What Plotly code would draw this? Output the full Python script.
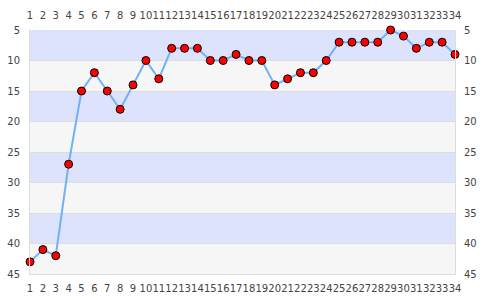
import plotly.graph_objects as go

games = list(range(1, 35))
positions = [43, 41, 42, 27, 15, 12, 15, 18, 14, 10, 13, 8, 8, 8, 10, 10, 9, 10, 10,
             14, 13, 12, 12, 10, 7, 7, 7, 7, 5, 6, 8, 7, 7, 9]
band_edges = [5, 10, 15, 20, 25, 30, 35, 40, 45]
band_colors = ["#dde3fd", "#f6f6f6"]
y_ticks = [5, 10, 15, 20, 25, 30, 35, 40, 45]

fig = go.Figure()
fig.add_trace(go.Scatter(
    x=games, y=positions, mode="lines+markers",
    line=dict(color="#70b2f3", width=2),
    marker=dict(color="#ff0000", size=8, line=dict(color="#000000", width=1)),
    cliponaxis=False, showlegend=False, hoverinfo="x+y"))
fig.add_trace(go.Scatter(x=games, y=positions, xaxis="x2", yaxis="y2",
                         mode="markers", marker=dict(opacity=0), showlegend=False,
                         hoverinfo="skip"))

shapes = []
for i in range(len(band_edges) - 1):
    shapes.append(dict(type="rect", xref="paper", yref="y", x0=0, x1=1,
                       y0=band_edges[i], y1=band_edges[i + 1],
                       fillcolor=band_colors[i % 2], line=dict(width=0), layer="below"))

font = dict(family="DejaVu Sans", size=10, color="#444444")
common_x = dict(range=[1, 34], tickmode="array", tickvals=games,
                ticktext=[str(g) for g in games], tickangle=0, showgrid=False,
                zeroline=False, tickfont=font, ticks="", fixedrange=True,
                automargin=False)
common_y = dict(range=[45, 5], tickmode="array", tickvals=y_ticks,
                zeroline=False, tickfont=font, ticks="", fixedrange=True,
                automargin=False)

fig.update_layout(
    width=485, height=300,
    margin=dict(l=30, r=30, t=30, b=26),
    paper_bgcolor="white", plot_bgcolor="white",
    shapes=shapes,
    xaxis=dict(**common_x, side="bottom", showline=True, linecolor="#dddddd",
               linewidth=1, ticklabelstandoff=5),
    xaxis2=dict(**common_x, side="top", overlaying="x", showline=False,
                ticklabelstandoff=8),
    yaxis=dict(**common_y, side="left", showgrid=True, gridcolor="#dddddd",
               showline=True, linecolor="#dddddd", linewidth=1,
               ticklabelstandoff=7),
    yaxis2=dict(**common_y, side="right", overlaying="y", showgrid=False,
                showline=True, linecolor="#dddddd", linewidth=1,
                ticklabelstandoff=6),
    font=font,
)
fig.write_html("out.html")
